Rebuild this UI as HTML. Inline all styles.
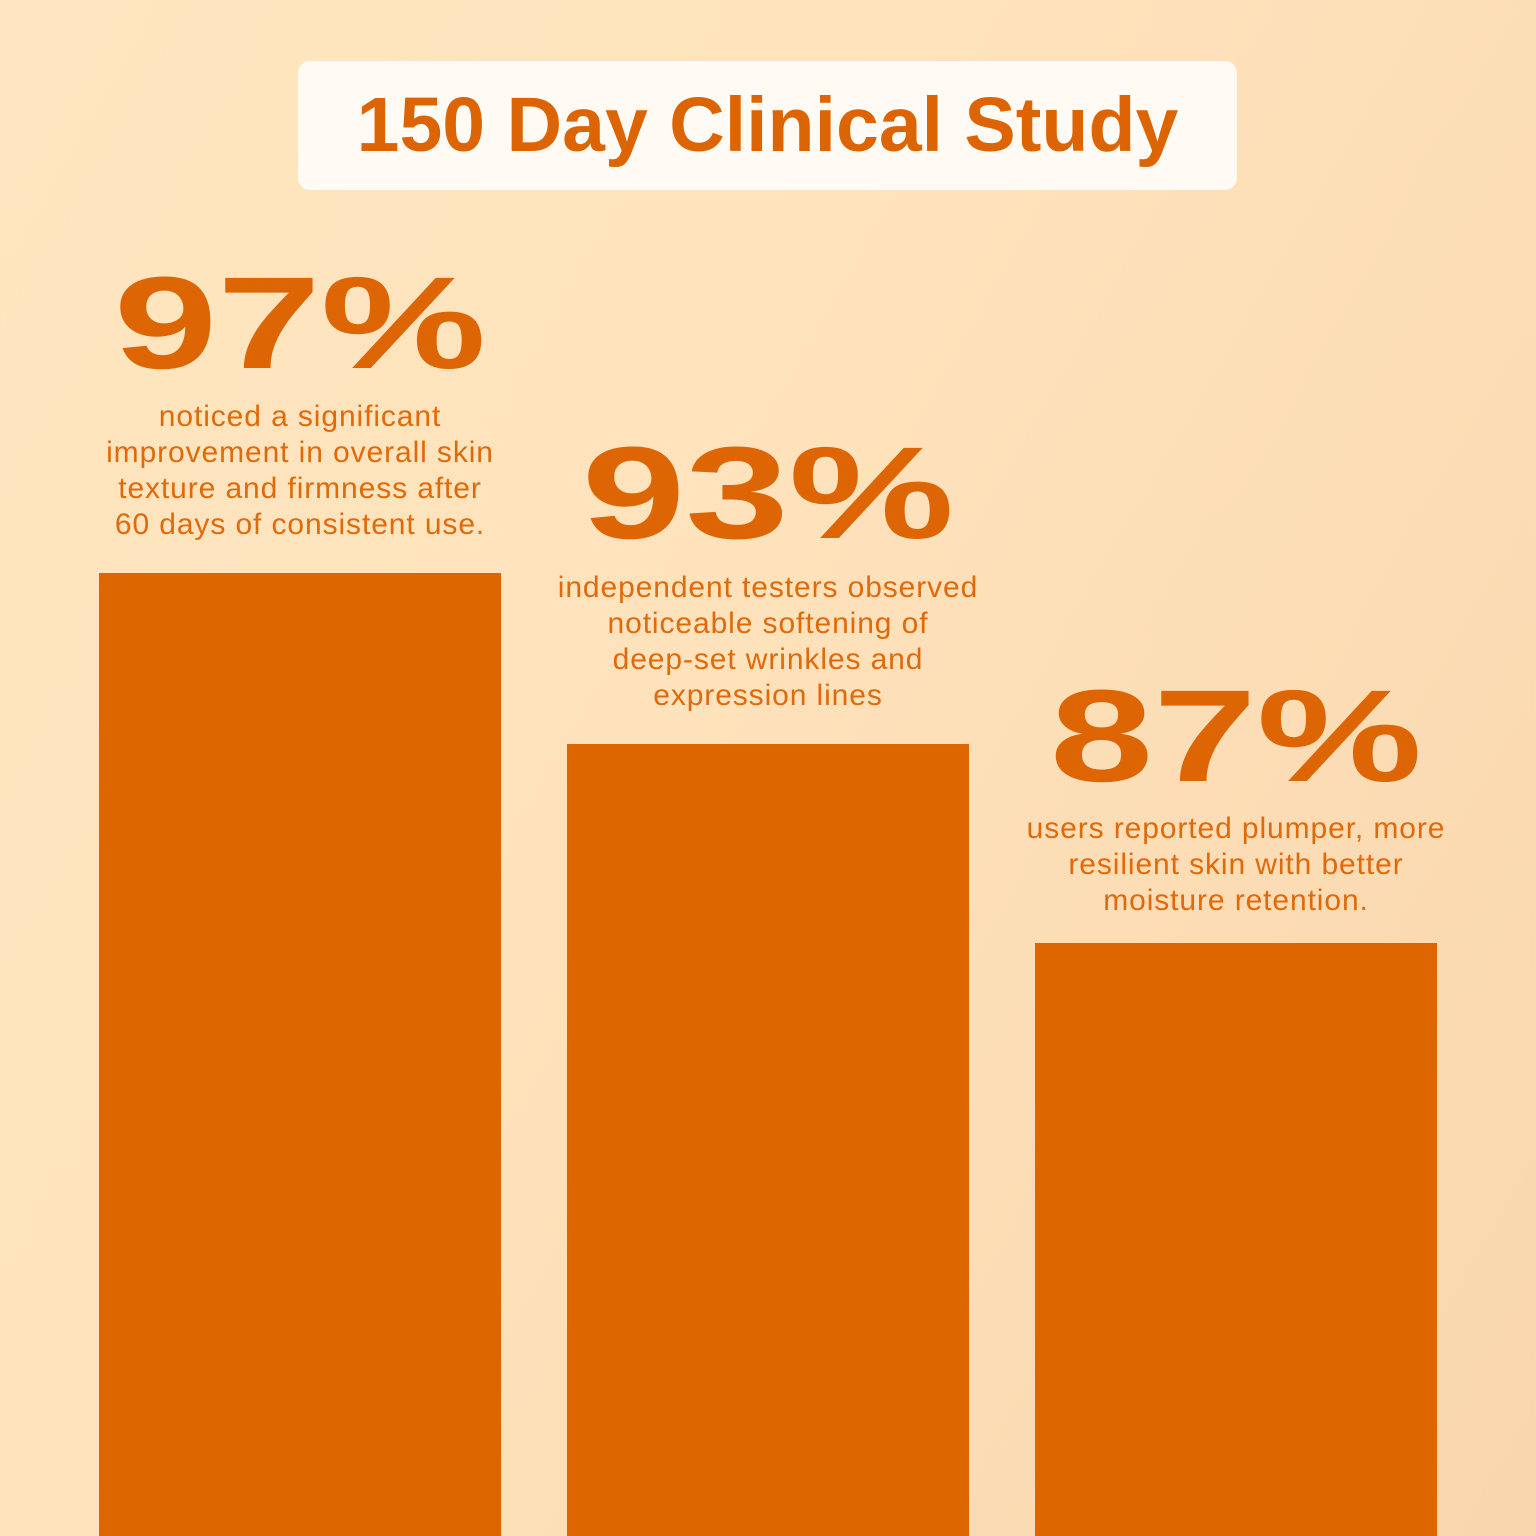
<!DOCTYPE html>
<html><head><meta charset="utf-8"><style>
html,body{margin:0;padding:0}
body{width:1536px;height:1536px;position:relative;overflow:hidden;
background:linear-gradient(120deg,#ffe6c0 0%,#fee2bb 45%,#f9d6ad 100%);
font-family:"Liberation Sans",sans-serif;color:#df6808}
.title{position:absolute;left:298px;top:61px;width:939px;height:129px;background:#fffaf3;border-radius:12px;
display:flex;align-items:center;justify-content:center;font-size:77px;font-weight:bold;color:#dc6402}
.big{position:absolute;width:600px;text-align:center;font-size:131px;line-height:131px;font-weight:bold;color:#de6503;
transform:scaleX(1.42);transform-origin:center}
.txt{position:absolute;width:500px;text-align:center;font-size:30px;line-height:36px;letter-spacing:0.9px;color:#e06a0a}
.bar{position:absolute;width:402px;bottom:0;background:#dd6600}
</style></head><body>
<div class="title">150 Day Clinical Study</div>

<div class="big" style="left:0px;top:257px">97%</div>
<div class="txt" style="left:50px;top:399px">noticed a significant<br>improvement in overall skin<br>texture and firmness after<br>60 days of consistent use.</div>
<div class="bar" style="left:99px;top:573px"></div>

<div class="big" style="left:468px;top:427px">93%</div>
<div class="txt" style="left:518px;top:570px">independent testers observed<br>noticeable softening of<br>deep-set wrinkles and<br>expression lines</div>
<div class="bar" style="left:567px;top:744px"></div>

<div class="big" style="left:936px;top:670px">87%</div>
<div class="txt" style="left:986px;top:811px">users reported plumper, more<br>resilient skin with better<br>moisture retention.</div>
<div class="bar" style="left:1035px;top:943px"></div>
</body></html>
